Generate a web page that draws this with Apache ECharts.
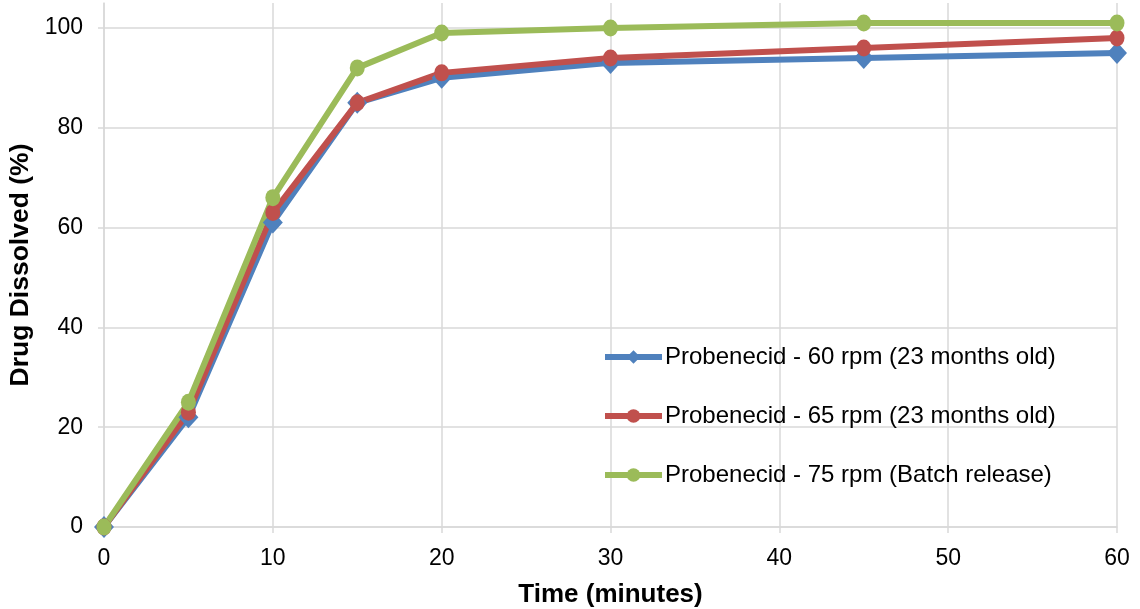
<!DOCTYPE html>
<html>
<head>
<meta charset="utf-8">
<script src="https://cdn.jsdelivr.net/npm/echarts@6/dist/echarts.min.js"></script>
<style>
html,body{margin:0;padding:0;background:#fff;}
#chart{width:1140px;height:609px;}
</style>
</head>
<body>
<div id="chart"></div>
<script>
const times = [0, 5, 10, 15, 20, 30, 45, 60];
const rpm60 = [0, 22, 61, 85, 90, 93, 94, 95];
const rpm65 = [0, 23, 63, 85, 91, 94, 96, 98];
const rpm75 = [0, 25, 66, 92, 99, 100, 101, 101];
const seriesNames = [
  'Probenecid - 60 rpm (23 months old)',
  'Probenecid - 65 rpm (23 months old)',
  'Probenecid - 75 rpm (Batch release)'
];
const xTitle = 'Time (minutes)';
const yTitle = 'Drug Dissolved (%)';

const pair = arr => times.map((t, i) => [t, arr[i]]);
const font = 'Liberation Sans, Arial, sans-serif';
const gridColor = '#d9d9d9';

const chart = echarts.init(document.getElementById('chart'));
chart.setOption({
  animation: false,
  textStyle: { fontFamily: font },
  grid: { left: 104, right: 23, top: 3, bottom: 82, containLabel: false, outerBoundsMode: 'none' },
  legend: {
    orient: 'vertical',
    left: 602,
    top: 345,
    padding: 0,
    itemGap: 35,
    itemWidth: 57,
    itemHeight: 17,
    lineStyle: { width: 6 },
    textStyle: { fontFamily: font, fontSize: 24, color: '#000', padding: [0, 0, 0, -2] },
    data: seriesNames
  },
  xAxis: {
    type: 'value',
    min: 0, max: 60, interval: 10,
    name: xTitle,
    nameLocation: 'middle',
    nameGap: 55,
    nameTextStyle: { fontFamily: font, fontSize: 26, fontWeight: 'bold', color: '#000' },
    axisLine: { show: true, lineStyle: { color: gridColor, width: 1.5 } },
    axisTick: { show: true, length: 6, lineStyle: { color: gridColor, width: 1.5 } },
    axisLabel: { fontFamily: font, fontSize: 23, color: '#000', margin: 20 },
    splitLine: { show: true, lineStyle: { color: gridColor, width: 1.5 } }
  },
  yAxis: {
    type: 'value',
    min: 0, max: 105, interval: 20,
    name: yTitle,
    nameLocation: 'middle',
    nameGap: 67,
    nameTextStyle: { fontFamily: font, fontSize: 26.5, fontWeight: 'bold', color: '#000' },
    axisLine: { show: true, lineStyle: { color: gridColor, width: 1.5 } },
    axisTick: { show: true, length: 6, lineStyle: { color: gridColor, width: 1.5 } },
    axisLabel: { fontFamily: font, fontSize: 23, color: '#000', margin: 21, showMaxLabel: false },
    splitLine: { show: true, showMaxLine: false, lineStyle: { color: gridColor, width: 1.5 } }
  },
  series: [
    {
      name: seriesNames[0], type: 'line', data: pair(rpm60),
      symbol: 'diamond', symbolSize: [20, 22],
      lineStyle: { width: 6, color: '#4F81BD' },
      itemStyle: { color: '#4F81BD' }
    },
    {
      name: seriesNames[1], type: 'line', data: pair(rpm65),
      symbol: 'circle', symbolSize: [15, 17],
      lineStyle: { width: 6, color: '#C0504D' },
      itemStyle: { color: '#C0504D' }
    },
    {
      name: seriesNames[2], type: 'line', data: pair(rpm75),
      symbol: 'circle', symbolSize: [15, 17],
      lineStyle: { width: 6, color: '#9BBB59' },
      itemStyle: { color: '#9BBB59' }
    }
  ]
});
</script>
</body>
</html>
